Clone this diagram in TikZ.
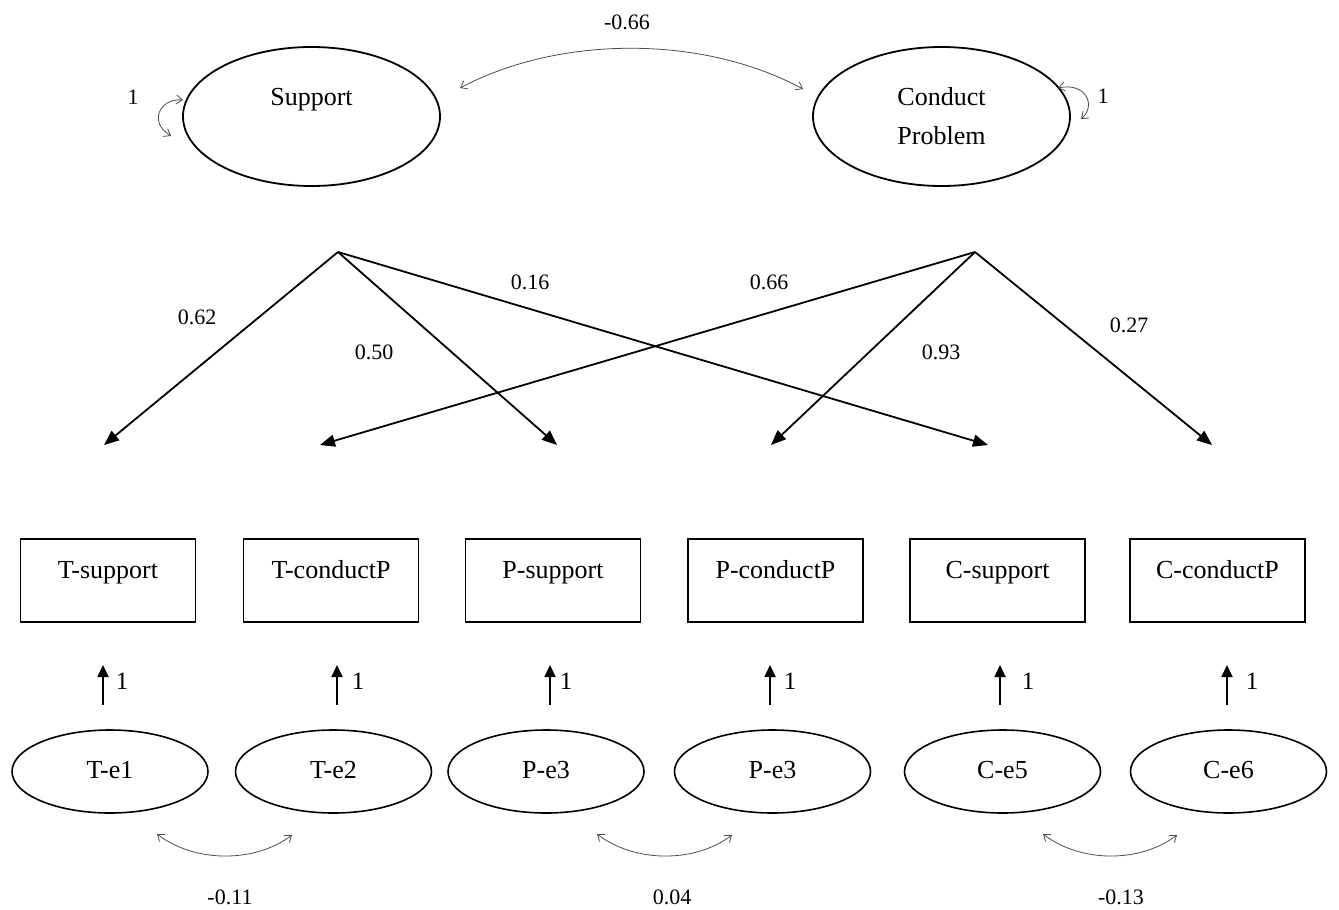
\documentclass[tikz,border=0pt]{standalone}
\usepackage{fontspec}
\setmainfont{Liberation Serif}
\usetikzlibrary{arrows.meta,shapes.geometric}
\begin{document}
\begin{tikzpicture}[x=1pt,y=-1pt,
  every node/.style={inner sep=0pt,outer sep=0pt},
  lat/.style={draw,ellipse,line width=1.8pt,minimum width=257pt,minimum height=139pt,
    font=\fontsize{26}{39}\selectfont,align=center},
  err/.style={draw,ellipse,line width=1.6pt,minimum width=196pt,minimum height=83pt,
    text height=18pt,text depth=4pt,font=\fontsize{26}{30}\selectfont},
  obs/.style={draw,rectangle,line width=1.6pt,minimum width=175pt,minimum height=83pt,
    text height=18pt,text depth=22pt,font=\fontsize{26}{30}\selectfont},
  lbl/.style={font=\fontsize{22}{26}\selectfont},
  onelbl/.style={font=\fontsize{25}{28}\selectfont},
  load/.style={line width=1.8pt,-{Triangle[length=15pt,width=12pt]}},
  unit/.style={line width=1.8pt,-{Triangle[length=12pt,width=11pt]}},
  cov/.style={line width=0.8pt,draw=black!70,
    {Straight Barb[length=6pt,width=9pt]}-{Straight Barb[length=6pt,width=9pt]}}
]
\useasboundingbox (0,0) rectangle (1339,910);

% latent factors
\node[lat,text height=18pt,text depth=40pt] (sup) at (311.5,116.5) {Support};
\node[lat] (cp) at (941.5,116.5) {Conduct\\Problem};

% covariance between factors
\coordinate (covA) at (460,88);
\coordinate (covB) at (803,89);
\draw[cov] (covA) .. controls (560,35) and (703,35) .. (covB);
\node[lbl] (lcov) at (627,22) {-0.66};

% variances of factors
\coordinate (vsA) at (183,100);
\coordinate (vsB) at (171,136);
\draw[cov] (vsA) .. controls (160,98) and (148,122) .. (vsB);
\node[lbl] (lvs) at (133,97) {1};
\coordinate (vcA) at (1058,88);
\coordinate (vcB) at (1081,119);
\draw[cov] (vcA) .. controls (1085,82) and (1097,105) .. (vcB);
\node[lbl] (lvc) at (1103,96) {1};

% loading origins and tips
\coordinate (s0) at (338,252);
\coordinate (c0) at (975,252);
\coordinate (t1) at (104,445);
\coordinate (t2) at (320,445);
\coordinate (t3) at (557,445);
\coordinate (t4) at (771,445);
\coordinate (t5) at (988,445);
\coordinate (t6) at (1212,445);

\draw[load] (s0) -- (t1);
\draw[load] (s0) -- (t3);
\draw[load] (s0) -- (t5);
\draw[load] (c0) -- (t2);
\draw[load] (c0) -- (t4);
\draw[load] (c0) -- (t6);

\node[lbl] (l1) at (197,317) {0.62};
\node[lbl] (l2) at (374,352) {0.50};
\node[lbl] (l3) at (530,282) {0.16};
\node[lbl] (l4) at (769,282) {0.66};
\node[lbl] (l5) at (941,352) {0.93};
\node[lbl] (l6) at (1129,325) {0.27};

% observed variables
\node[obs] (o1) at (108,580.5) {T-support};
\node[obs] (o2) at (331,580.5) {T-conductP};
\node[obs] (o3) at (553,580.5) {P-support};
\node[obs] (o4) at (775.5,580.5) {P-conductP};
\node[obs] (o5) at (997.5,580.5) {C-support};
\node[obs] (o6) at (1217.5,580.5) {C-conductP};

% unit arrows
\foreach \i/\x/\lx in {1/103/122,2/337/358,3/550/566,4/770/790,5/1000/1028,6/1227/1252}{
  \coordinate (ub\i) at (\x,705);
  \coordinate (ut\i) at (\x,665);
  \draw[unit] (ub\i) -- (ut\i);
  \node[onelbl] (ul\i) at (\lx,681) {1};
}

% error terms
\node[err] (e1) at (110,771.5) {T-e1};
\node[err] (e2) at (333.5,771.5) {T-e2};
\node[err] (e3) at (546,771.5) {P-e3};
\node[err] (e4) at (772.5,771.5) {P-e3};
\node[err] (e5) at (1002.5,771.5) {C-e5};
\node[err] (e6) at (1228.5,771.5) {C-e6};

% error covariances
\coordinate (a1) at (157,834);
\coordinate (b1) at (292,835);
\draw[cov] (a1) .. controls (195,863) and (255,863) .. (b1);
\node[lbl] (m1) at (230,897) {-0.11};
\coordinate (a2) at (597,834);
\coordinate (b2) at (732,835);
\draw[cov] (a2) .. controls (635,863) and (695,863) .. (b2);
\node[lbl] (m2) at (672,897) {0.04};
\coordinate (a3) at (1043,834);
\coordinate (b3) at (1177,835);
\draw[cov] (a3) .. controls (1081,863) and (1140,863) .. (b3);
\node[lbl] (m3) at (1121,897) {-0.13};
\end{tikzpicture}
\end{document}
